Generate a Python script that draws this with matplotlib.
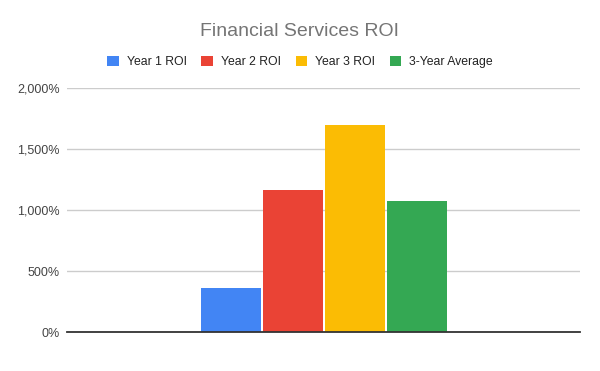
import matplotlib
matplotlib.use("Agg")
import matplotlib.pyplot as plt
from matplotlib.patches import Patch
from matplotlib.ticker import FuncFormatter

series = ["Year 1 ROI", "Year 2 ROI", "Year 3 ROI", "3-Year Average"]
values = [360, 1165, 1700, 1075]
colors = ["#4285F4", "#EA4335", "#FBBC04", "#34A853"]
yticks = [0, 500, 1000, 1500, 2000]

plt.rcParams['font.family'] = ['Liberation Sans', 'DejaVu Sans']

fig = plt.figure(figsize=(6, 3.71), dpi=100)
ax = fig.add_axes([67/600, 1 - 332.3/371, (580-67)/600, (332.3-88.3)/371])

step = 1.0
width = 60/62
n = len(values)
for i, (v, c) in enumerate(zip(values, colors)):
    ax.bar((i - (n-1)/2) * step, v, width=width, color=c, zorder=3, label=series[i])

half = (513/2)/62
ax.set_xlim(-half, half)
ax.set_ylim(0, 2000)
ax.set_yticks(yticks)
ax.yaxis.set_major_formatter(FuncFormatter(lambda v, p: f"{int(v):,}%"))
ax.set_xticks([])
ax.grid(axis='y', color='#cccccc', linewidth=1, zorder=0)
for s in ['top', 'right', 'left']:
    ax.spines[s].set_visible(False)
ax.spines['bottom'].set_color('#333333')
ax.spines['bottom'].set_linewidth(1.3)
ax.spines['bottom'].set_zorder(4)
ax.tick_params(axis='y', length=0, pad=5, labelsize=9, labelcolor='#444444')

fig.text(0.5, 1 - 31/371, "Financial Services ROI", ha='center', va='center',
         fontsize=14, color='#757575')

handles = [Patch(facecolor=c, edgecolor='none') for c in colors]
fig.legend(handles, series, loc='center', bbox_to_anchor=(0.5, 1 - 62/371),
           ncol=4, frameon=False, fontsize=8.8, handlelength=0.96, handleheight=0.96,
           handletextpad=0.64, columnspacing=1.2, labelcolor='#222222')

fig.savefig("out.png", dpi=100)
